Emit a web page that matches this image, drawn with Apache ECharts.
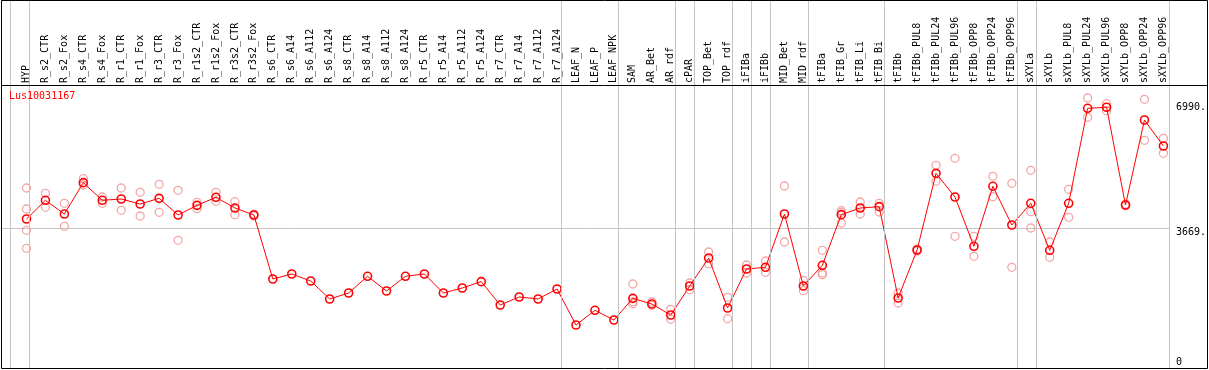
<!DOCTYPE html>
<html><head><meta charset="utf-8">
<script src="https://cdn.jsdelivr.net/npm/echarts@6/dist/echarts.min.js"></script>
<style>html,body{margin:0;padding:0;background:#fff}#c{width:1209px;height:370px}</style>
</head><body><div id="c"></div>
<script>
const geneName = 'Lus10031167';
const categories = ['HYP','R_s2_CTR','R_s2_Fox','R_s4_CTR','R_s4_Fox','R_r1_CTR','R_r1_Fox','R_r3_CTR','R_r3_Fox','R_r1s2_CTR','R_r1s2_Fox','R_r3s2_CTR','R_r3s2_Fox','R_s6_CTR','R_s6_A14','R_s6_A112','R_s6_A124','R_s8_CTR','R_s8_A14','R_s8_A112','R_s8_A124','R_r5_CTR','R_r5_A14','R_r5_A112','R_r5_A124','R_r7_CTR','R_r7_A14','R_r7_A112','R_r7_A124','LEAF_N','LEAF_P','LEAF_NPK','SAM','AR_Bet','AR_rdf','cPAR','TOP_Bet','TOP_rdf','iFIBa','iFIBb','MID_Bet','MID_rdf','tFIBa','tFIB_Gr','tFIB_Li','tFIB_Bi','tFIBb','tFIBb_PUL8','tFIBb_PUL24','tFIBb_PUL96','tFIBb_OPP8','tFIBb_OPP24','tFIBb_OPP96','sXYLa','sXYLb','sXYLb_PUL8','sXYLb_PUL24','sXYLb_PUL96','sXYLb_OPP8','sXYLb_OPP24','sXYLb_OPP96'];
const mainValues = [3924,4437,4061,4921,4437,4473,4336,4491,4034,4299,4519,4226,4034,2278,2415,2223,1729,1893,2351,1948,2351,2415,1893,2031,2205,1564,1784,1729,2003,1015,1418,1152,1747,1592,1290,2085,2854,1482,2552,2598,4061,2085,2653,4043,4226,4263,1756,3073,5177,4528,3175,4821,3759,4355,3065,4355,6961,6990,4308,6641,5927];
const replicates = [[4775,4198,3614,3120],[4629,4245],[4355,3724],[5030,4857],[4528,4355],[4775,4162],[4656,4006],[4876,4107],[4711,3340],[4382,4207],[4656,4410],[4399,4043],[4060,4010],
[],[],[],[],[],[],[],[],[],[],[],[],[],[],[],[],[],[],[],
[2140,1655,1600],[1646,1555],[1445,1171],[2168,1985],[3018,2698],[1775,1189],[2662,2442],[2771,2461],[4829,3293],[2232,1957],[3065,2442,2397],[4152,3814,4107],[4390,4061],[4355,4116],[1893,1619],[3100,3050],[5397,4958],[5589,3449],[3449,2900],[5095,4536],[4903,2598],[5260,4125,3677],[3293,2873],[4739,3970],[7244,6715],[7088,6896],[4330,4290],[7208,6083],[6138,5727]];
const yTickValues = [0, 3669, 6990];
const yTickLabels = ['0', '3669.', '6990.'];
const referenceLine = 3669;
const separators = [0,1,29,32,35,36,38,39,40,42,46,53,54,61];

const FONT = 'DejaVu Sans Mono';
const Y_MAX = 7601;
const SEP_COLOR = '#c4c4c4';
const repData = [];
replicates.forEach((arr, i) => arr.forEach(v => repData.push([i, v])));
const refColors = [];
for (let k = 0; k * referenceLine <= Y_MAX; k++) refColors.push(k === 1 ? SEP_COLOR : 'rgba(0,0,0,0)');

const chart = echarts.init(document.getElementById('c'), null, {renderer: 'canvas'});
chart.setOption({
  animation: false,
  backgroundColor: '#fff',
  title: {text: geneName, left: 9, top: 91, padding: 0, z: 20,
    textStyle: {color: '#ff0000', fontFamily: FONT, fontSize: 10, fontWeight: 'normal'}},
  grid: [
    {left: 17, top: 85, width: 1159, bottom: 8},
    {left: 1.5, top: 0, width: 1168, bottom: 2},
    {left: 1.5, top: 85, width: 1168.5, bottom: 8}
  ],
  xAxis: [
    {type: 'category', gridIndex: 0, position: 'top', data: categories, boundaryGap: true,
     axisLine: {show: false}, axisTick: {show: false}, splitLine: {show: false},
     axisLabel: {rotate: 90, interval: 0, margin: 2, fontFamily: FONT, fontSize: 10, color: '#000'}},
    {type: 'value', gridIndex: 1, min: -9 / 19, max: categories.length,
     axisLine: {show: false}, axisTick: {show: false}, axisLabel: {show: false}, splitLine: {show: false}},
    {type: 'value', gridIndex: 2, min: 0, max: 1, show: false}
  ],
  yAxis: [
    {type: 'value', gridIndex: 0, position: 'right', min: 0, max: Y_MAX,
     axisLine: {show: false}, axisTick: {show: false}, splitLine: {show: false},
     axisLabel: {show: true, customValues: yTickValues, margin: 3, fontFamily: FONT, fontSize: 10, color: '#000',
       formatter: v => { const i = yTickValues.indexOf(v); const t = i >= 0 ? yTickLabels[i] : ''; return v === referenceLine ? '{s|' + t + '}' : t; },
       rich: {s: {padding: [8, 0, 0, 0], fontFamily: FONT, fontSize: 10, color: '#000'}}}},
    {type: 'value', gridIndex: 1, min: 0, max: 1,
     axisLine: {show: true, onZero: true, lineStyle: {color: SEP_COLOR, width: 1}},
     axisTick: {show: false}, axisLabel: {show: false}, splitLine: {show: false}},
    {type: 'value', gridIndex: 2, min: 0, max: Y_MAX, interval: referenceLine,
     axisLine: {show: false}, axisTick: {show: false}, axisLabel: {show: false},
     splitLine: {show: true, lineStyle: {color: refColors, width: 1}}}
  ],
  series: [
    {type: 'line', xAxisIndex: 1, yAxisIndex: 1, data: [[1, 0.5]], symbol: 'none', lineStyle: {opacity: 0}, silent: true, z: 1,
     markLine: {silent: true, symbol: ['none', 'none'], label: {show: false}, animation: false,
       lineStyle: {color: SEP_COLOR, width: 1, type: 'solid'},
       data: separators.map(k => [{coord: [k, 0]}, {coord: [k, 1]}])}},
    {type: 'scatter', xAxisIndex: 0, yAxisIndex: 0, data: repData, symbol: 'circle', symbolSize: 8,
     itemStyle: {color: 'rgba(0,0,0,0)', borderColor: '#f09090', borderWidth: 1.3}, z: 3, silent: true},
    {type: 'line', xAxisIndex: 0, yAxisIndex: 0, data: mainValues, symbol: 'circle', symbolSize: 8, showAllSymbol: true,
     lineStyle: {color: '#ff0000', width: 1}, itemStyle: {color: 'rgba(0,0,0,0)', borderColor: '#ff0000', borderWidth: 1.6},
     z: 4, silent: true}
  ],
  graphic: [
    {type: 'rect', shape: {x: 1.5, y: 0.5, width: 1206, height: 368}, style: {fill: 'none', stroke: '#000', lineWidth: 1}, z: 100},
    {type: 'line', shape: {x1: 1, y1: 85.5, x2: 1208, y2: 85.5}, style: {stroke: '#000', lineWidth: 1}, z: 100}
  ]
});
</script></body></html>
